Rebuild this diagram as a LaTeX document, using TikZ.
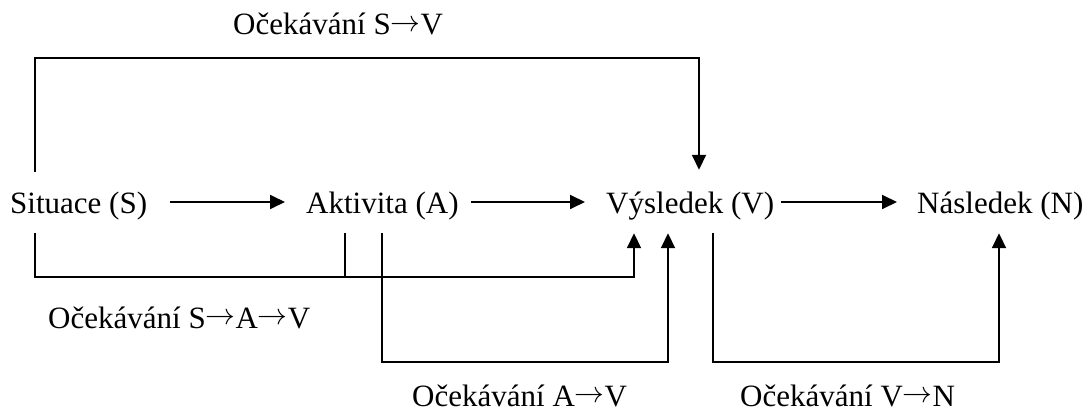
\documentclass[tikz,border=0pt]{standalone}
\usepackage{graphicx}
\usepackage{fontspec}
\setmainfont{Liberation Serif}
\usetikzlibrary{arrows.meta}
\newcommand{\myarrow}{\raisebox{3.5pt}{\scalebox{1.2}{$\rightarrow$}}}
\tikzset{
  lbl/.style={anchor=base west, inner sep=0pt, text height=22pt, text depth=0pt, font=\fontsize{31}{37}\selectfont},
  captxt/.style={anchor=base west, inner sep=0pt, font=\fontsize{31}{37}\selectfont},
  ln/.style={line width=1.8pt},
  arr/.style={line width=1.8pt, -{Triangle[length=15pt,width=14pt]}},
}
\begin{document}
\begin{tikzpicture}[x=1pt,y=-1pt]
\useasboundingbox (0,0) rectangle (1091,412);
% main nodes
\node[lbl] (S) at (10,213) {Situace (S)};
\node[lbl] (A) at (306,213) {Aktivita (A)};
\node[lbl] (V) at (606,213) {Výsledek (V)};
\node[lbl] (N) at (917,213) {Následek (N)};
% captions
\node[captxt] (cSV) at (233,35) {Očekávání S\myarrow V};
\node[captxt] (cSAV) at (48,328) {Očekávání S\myarrow A\myarrow V};
\node[captxt] (cAV) at (412,406) {Očekávání A\myarrow V};
\node[captxt] (cVN) at (740,406) {Očekávání V\myarrow N};
% corner levels
\coordinate (ytop) at (0,58);
\coordinate (ymid) at (0,277);
\coordinate (ylow) at (0,362);
% main chain
\draw[arr] ([xshift=23pt]S.east) -- ([xshift=-21pt]A.west);
\draw[arr] ([xshift=12pt]A.east) -- ([xshift=-21pt]V.west);
\draw[arr] ([xshift=7pt]V.east) -- ([xshift=-20pt]N.west);
% S -> V over the top
\coordinate (s0) at ([xshift=25pt,yshift=19pt]S.north west);
\coordinate (v0) at ([xshift=93pt,yshift=21pt]V.north west);
\draw[arr] (s0) -- (s0 |- ytop) -| (v0);
% S -> A -> V
\coordinate (s1) at ([xshift=25pt,yshift=-20pt]S.south west);
\coordinate (v1) at ([xshift=28pt,yshift=-20pt]V.south west);
\draw[arr] (s1) -- (s1 |- ymid) -| (v1);
\coordinate (a1) at ([xshift=39pt,yshift=-20pt]A.south west);
\draw[ln] (a1) -- (a1 |- ymid);
% A -> V
\coordinate (a2) at ([xshift=76pt,yshift=-20pt]A.south west);
\coordinate (v2) at ([xshift=62pt,yshift=-20pt]V.south west);
\draw[arr] (a2) -- (a2 |- ylow) -| (v2);
% V -> N
\coordinate (v3) at ([xshift=107pt,yshift=-20pt]V.south west);
\coordinate (n3) at ([xshift=82pt,yshift=-20pt]N.south west);
\draw[arr] (v3) -- (v3 |- ylow) -| (n3);
\end{tikzpicture}
\end{document}
